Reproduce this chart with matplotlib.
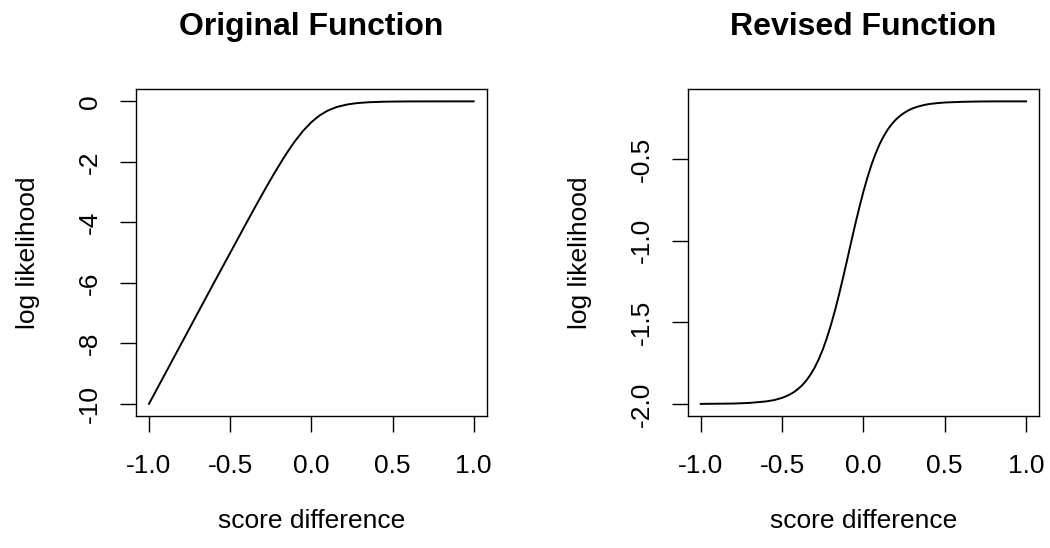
import numpy as np
import matplotlib.pyplot as plt

plt.rcParams['font.family'] = ['Liberation Sans', 'DejaVu Sans']

# original function: score difference / log likelihood
orig_x = [-1.0, -0.9, -0.8, -0.7, -0.6, -0.5, -0.4, -0.35, -0.3, -0.275,
          -0.25, -0.225, -0.2, -0.175, -0.15, -0.125, -0.1, -0.075, -0.05, -0.025,
          0.0, 0.025, 0.05, 0.075, 0.1, 0.125, 0.15, 0.175, 0.2, 0.225,
          0.25, 0.275, 0.3, 0.35, 0.4, 0.45, 0.5, 0.6, 0.7, 0.8, 0.9, 1.0]
orig_ll = [-10.0, -9.0, -8.0, -7.0, -6.0, -5.01, -4.02, -3.53, -3.05, -2.81,
           -2.58, -2.35, -2.13, -1.91, -1.70, -1.50, -1.31, -1.14, -0.97, -0.83,
           -0.69, -0.576, -0.47, -0.387, -0.31, -0.252, -0.20, -0.160, -0.13, -0.100,
           -0.08, -0.062, -0.05, -0.03, -0.02, -0.011, -0.007, -0.002, -0.001,
           -0.0003, -0.0001, 0.0]

# revised function
rev_x = [-1.0, -0.9, -0.8, -0.7, -0.6, -0.55, -0.5, -0.475, -0.45, -0.425,
         -0.4, -0.375, -0.35, -0.325, -0.3, -0.275, -0.25, -0.225, -0.2, -0.175,
         -0.15, -0.125, -0.1, -0.075, -0.05, -0.025, 0.0, 0.025, 0.05, 0.075,
         0.1, 0.125, 0.15, 0.175, 0.2, 0.225, 0.25, 0.275, 0.3, 0.325,
         0.35, 0.375, 0.4, 0.45, 0.5, 0.6, 0.7, 0.8, 0.9, 1.0]
rev_ll = [-2.0, -1.999, -1.998, -1.994, -1.985, -1.977, -1.963, -1.953, -1.941, -1.926,
          -1.907, -1.884, -1.855, -1.820, -1.778, -1.727, -1.667, -1.597, -1.517, -1.428,
          -1.330, -1.225, -1.117, -1.006, -0.898, -0.795, -0.698, -0.611, -0.532, -0.465,
          -0.406, -0.358, -0.317, -0.284, -0.256, -0.234, -0.216, -0.201, -0.189, -0.180,
          -0.173, -0.167, -0.162, -0.156, -0.152, -0.148, -0.146, -0.145, -0.145, -0.145]

titles = ["Original Function", "Revised Function"]
yticks = [[0, -2, -4, -6, -8, -10], [-0.5, -1.0, -1.5, -2.0]]
ytick_labels = [["0", "-2", "-4", "-6", "-8", "-10"], ["-0.5", "-1.0", "-1.5", "-2.0"]]
xticks = [-1.0, -0.5, 0.0, 0.5, 1.0]
xtick_labels = ["-1.0", "-0.5", "0.0", "0.5", "1.0"]

fig = plt.figure(figsize=(10.5, 5.48), dpi=100)
ax_pos = [[0.1295, 0.2409, 0.334, 0.5962], [0.655, 0.2409, 0.3346, 0.5962]]
ylab_x = [0.027, 0.552]

series = [(orig_x, orig_ll), (rev_x, rev_ll)]
for i, (xvals, yvals) in enumerate(series):
    ax = fig.add_axes(ax_pos[i])
    ax.plot(xvals, yvals, color='black', lw=1.4)

    # R style 4% padding on both axes
    lo, hi = min(yvals), max(yvals)
    pad = 0.04 * (hi - lo)
    ax.set_ylim(lo - pad, hi + pad)
    ax.set_xlim(-1.08, 1.08)

    ax.set_xticks(xticks)
    ax.set_xticklabels(xtick_labels)
    ax.set_yticks(yticks[i])
    ax.set_yticklabels(ytick_labels[i], rotation=90, va='center')
    ax.tick_params(length=11.5, width=1.0, labelsize=19, pad=16)
    ax.tick_params(axis='y', pad=13)
    for s in ax.spines.values():
        s.set_linewidth(1.0)

    ax.set_title(titles[i], fontsize=23, fontweight='bold', pad=39)

    cx = ax_pos[i][0] + ax_pos[i][2] / 2
    fig.text(cx, 0.036, "score difference", ha='center', va='baseline', fontsize=19)
    fig.text(ylab_x[i], ax_pos[i][1] + ax_pos[i][3] / 2, "log likelihood",
             rotation=90, ha='center', va='center', fontsize=19)

fig.savefig("out.png", dpi=100)
